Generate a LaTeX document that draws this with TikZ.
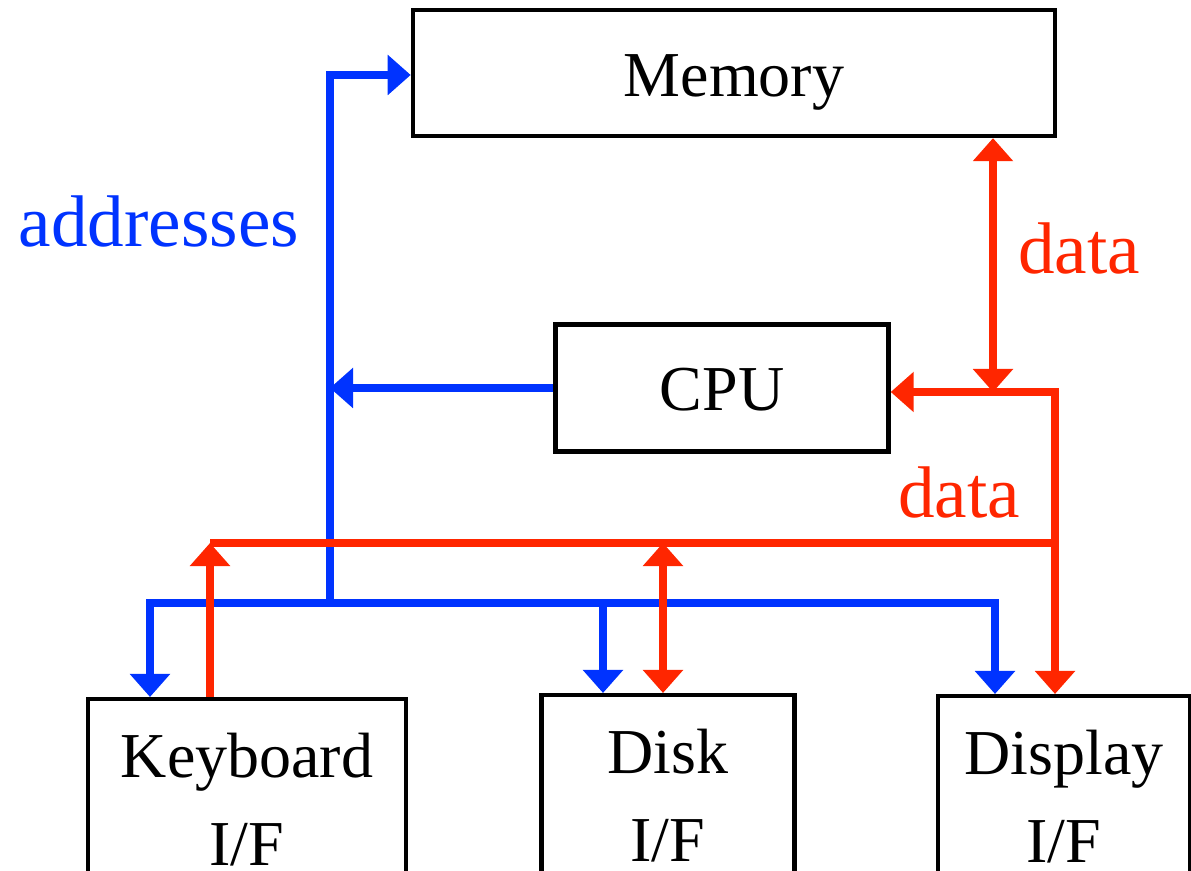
\documentclass[tikz,border=0pt]{standalone}
\usepackage{fontspec}
\setmainfont{Liberation Serif}
\usepackage{xcolor}
\usetikzlibrary{arrows.meta, positioning}
\definecolor{addrblue}{RGB}{0,51,255}
\definecolor{datared}{RGB}{255,38,0}
\tikzstyle{unit} = [rectangle, draw, line width=1.2pt, inner sep=0pt, font=\fontsize{18.2}{25}\selectfont]
\tikzstyle{port} = [unit, anchor=north, align=center, minimum width=3.18cm, minimum height=2.0cm]
\tikzstyle{addr} = [draw=addrblue, line width=2pt]
\tikzstyle{data} = [draw=datared, line width=2pt]
\tikzstyle{buslabel} = [anchor=base, inner sep=0pt, font=\fontsize{20.8}{25}\selectfont]

\begin{document}
\begin{tikzpicture}[x=0.01cm, y=-0.01cm, >={Triangle[length=0.23cm, width=0.39cm]}]
\useasboundingbox (0,0) rectangle (1191,871);

% boxes
\node[unit, minimum width=6.42cm, minimum height=1.26cm, text height=0.48cm, text depth=0cm] (memory) at (734,73) {Memory};
\node[unit, minimum width=3.33cm, minimum height=1.27cm, text height=0.45cm, text depth=0cm] (cpu) at (722,388) {CPU};
\node[port] (keyboard) at (247,697) {Keyboard\\I/F};
\node[port, minimum width=2.53cm] (disk) at (668,693) {Disk\\I/F};
\node[port, minimum width=2.52cm] (display) at (1064,694) {Display\\I/F};

% bus corners
\coordinate (atop) at (330,75);
\coordinate (ajoin) at (330,603);
\coordinate (aleft) at (150,603);
\coordinate (amid) at (603,603);
\coordinate (aright) at (995,603);
\coordinate (dmem) at (993,392);
\coordinate (dcorner) at (1055,392);
\coordinate (djoin) at (1055,543);
\coordinate (dleft) at (210,543);
\coordinate (dmid) at (663,543);

% address bus
\draw[addr, ->] (ajoin) -- (atop) -- (memory.west |- atop);
\draw[addr, ->] (cpu.west) -- (ajoin |- cpu.west);
\draw[addr, <->] (aleft |- keyboard.north) -- (aleft) -- (aright) -- (aright |- display.north);
\draw[addr, ->] (amid) -- (amid |- disk.north);

% data bus
\draw[data, <->] (memory.south -| dmem) -- (dmem);
\draw[data, <->] (cpu.east |- dcorner) -- (dcorner) -- (dcorner |- display.north);
\draw[data] (dleft) -- (djoin);
\draw[data, ->] (dleft |- keyboard.north) -- (dleft);
\draw[data, <->] (dmid) -- (dmid |- disk.north);

% labels
\node[buslabel, text=addrblue] (addrtext) at (159,247) {addresses};
\node[buslabel, text=datared] (datatop) at (1079,274) {data};
\node[buslabel, text=datared] (datamid) at (959,518) {data};

\end{tikzpicture}
\end{document}
